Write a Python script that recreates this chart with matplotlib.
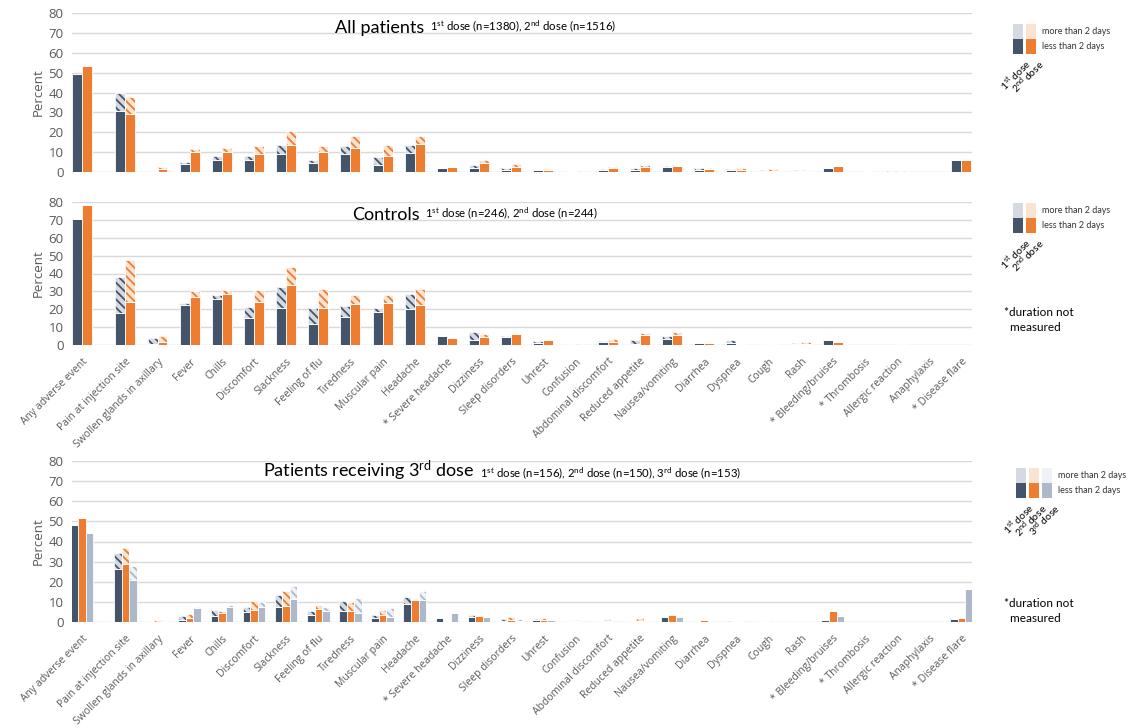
import numpy as np
import matplotlib
matplotlib.use('Agg')
import matplotlib.pyplot as plt
from matplotlib.patches import Rectangle
from matplotlib.text import Annotation

plt.rcParams['font.family'] = ['Open Sans', 'DejaVu Sans']
plt.rcParams['mathtext.fontset'] = 'custom'
plt.rcParams['mathtext.rm'] = 'Lato'
plt.rcParams['mathtext.it'] = 'Lato:italic'
plt.rcParams['hatch.linewidth'] = 1.3

# symptom categories
symptoms = ['Any adverse event', 'Pain at injection site', 'Swollen glands in axillary', 'Fever',
            'Chills', 'Discomfort', 'Slackness', 'Feeling of flu', 'Tiredness', 'Muscular pain',
            'Headache', '* Severe headache', 'Dizziness', 'Sleep disorders', 'Unrest', 'Confusion',
            'Abdominal discomfort', 'Reduced appetite', 'Nausea/vomiting', 'Diarrhea', 'Dyspnea',
            'Cough', 'Rash', '* Bleeding/bruises', '* Thrombosis', 'Allergic reaction',
            'Anaphylaxis', '* Disease flare']

# All patients: "short" = less than 2 days, "total" = short + more than 2 days
all_d1_short = [49.5, 30.9, 0.7, 4.2, 5.9, 5.9, 9.2, 4.5, 8.9, 3.7, 9.4, 2.0, 2.2, 1.0, 1.0, 0.3,
                1.2, 1.2, 2.5, 1.2, 0.8, 0.7, 0.7, 2.2, 0.0, 0.2, 0.0, 5.9]
all_d1_total = [49.5, 39.8, 0.7, 5.0, 8.0, 8.0, 13.6, 6.2, 13.1, 7.4, 13.6, 2.0, 3.5, 2.0, 1.0, 0.5,
                1.7, 1.8, 3.0, 1.8, 1.7, 1.2, 1.2, 2.2, 0.0, 0.4, 0.0, 5.9]
all_d2_short = [53.4, 29.2, 1.5, 10.1, 10.1, 9.2, 13.8, 10.1, 12.1, 8.2, 13.9, 2.3, 4.5, 2.5, 1.0, 0.2,
                1.8, 2.5, 3.2, 1.5, 0.8, 0.7, 0.6, 3.2, 0.3, 0.2, 0.0, 6.0]
all_d2_total = [53.4, 37.8, 2.5, 11.6, 12.1, 13.3, 20.5, 12.9, 18.0, 13.4, 18.3, 2.3, 6.0, 3.9, 1.7, 0.6,
                2.5, 3.5, 3.7, 2.0, 1.8, 1.3, 1.2, 3.2, 0.3, 0.4, 0.0, 6.0]

# Controls
ctl_d1_short = [70.7, 17.9, 0.7, 22.1, 26.0, 15.3, 20.6, 11.6, 15.9, 18.5, 20.0, 4.9, 2.8, 4.3, 0.9, 0.3,
                1.9, 0.6, 3.4, 1.3, 0.9, 0.3, 0.4, 2.8, 0.0, 0.0, 0.0, 0.0]
ctl_d1_total = [70.7, 38.1, 3.7, 23.6, 27.9, 21.3, 32.5, 20.7, 21.9, 20.9, 28.5, 4.9, 7.5, 5.0, 2.2, 0.4,
                2.4, 2.8, 5.0, 1.3, 2.6, 0.4, 1.2, 2.8, 0.0, 0.0, 0.0, 0.0]
ctl_d2_short = [78.3, 23.9, 1.5, 26.7, 28.8, 23.9, 33.3, 20.7, 22.8, 23.7, 22.4, 4.1, 4.5, 6.0, 2.8, 0.2,
                1.5, 5.4, 5.8, 0.9, 0.7, 0.4, 0.8, 1.7, 0.0, 0.3, 0.0, 0.0]
ctl_d2_total = [78.3, 47.5, 5.0, 30.1, 30.8, 30.7, 43.4, 31.2, 27.9, 28.2, 31.3, 4.1, 6.2, 6.2, 2.8, 0.4,
                3.4, 6.7, 7.5, 1.5, 0.7, 0.8, 1.6, 1.7, 0.0, 0.3, 0.0, 0.0]

# Patients receiving 3rd dose
p3_d1_short = [48.3, 26.2, 0.7, 1.0, 3.0, 5.0, 7.7, 3.7, 5.7, 2.0, 9.1, 2.2, 2.6, 0.7, 1.0, 0.3,
               0.3, 0.3, 2.5, 0.0, 0.0, 0.3, 0.3, 1.2, 0.0, 0.0, 0.0, 1.7]
p3_d1_total = [48.3, 34.2, 0.7, 2.8, 6.0, 7.7, 13.5, 5.7, 10.3, 3.3, 12.4, 2.2, 3.5, 1.7, 1.7, 0.3,
               0.3, 0.3, 2.5, 0.0, 0.3, 0.7, 0.6, 1.2, 0.0, 0.0, 0.0, 1.7]
p3_d2_short = [51.7, 28.7, 0.2, 2.0, 4.7, 6.0, 7.8, 6.7, 5.5, 3.5, 10.9, 0.3, 2.8, 0.8, 1.0, 0.3,
               0.3, 0.5, 3.5, 0.8, 0.5, 0.0, 0.0, 5.3, 0.0, 0.0, 0.0, 1.8]
p3_d2_total = [51.7, 36.8, 1.2, 3.8, 5.7, 10.2, 15.5, 8.5, 9.7, 5.8, 10.9, 0.3, 2.8, 2.6, 2.0, 1.0,
               1.7, 2.2, 3.5, 0.8, 0.7, 0.3, 0.6, 5.3, 0.0, 0.0, 0.0, 1.8]
p3_d3_short = [44.3, 20.7, 0.3, 7.0, 7.3, 7.7, 11.2, 5.7, 4.3, 2.5, 10.9, 4.6, 2.5, 0.3, 0.8, 0.0,
               0.2, 0.5, 2.5, 0.2, 0.0, 0.0, 0.2, 3.0, 0.0, 0.0, 0.0, 16.2]
p3_d3_total = [44.3, 27.8, 1.0, 7.3, 8.3, 9.7, 17.7, 7.5, 12.0, 7.1, 15.4, 4.6, 2.5, 1.7, 0.8, 0.0,
               0.2, 0.5, 2.5, 0.6, 0.3, 0.3, 0.6, 3.0, 0.0, 0.0, 0.0, 16.2]

dark, orange, grey = '#44546A', '#ED7D31', '#ADB9CA'
pale = {dark: '#D5DAE2', orange: '#FBE3D2', grey: '#EEF1F5'}
tickgrey = '#595959'

W, H = 1129, 728
fig = plt.figure(figsize=(W / 100, H / 100), dpi=100)

# extra gap after the first category
x = np.array([0.0] + [1.35 + i for i in range(len(symptoms) - 1)])


def fpos(px, py):
    return px / W, 1 - py / H


def panel(top, bottom, series, labels):
    ax = fig.add_axes([72 / W, 1 - bottom / H, 900 / W, (bottom - top) / H])
    n = len(series)
    bw = 0.31 if n == 2 else 0.235
    offs = (np.arange(n) - (n - 1) / 2) * bw
    for (short, total, col), o in zip(series, offs):
        short = np.array(short)
        extra = np.array(total) - short
        ax.bar(x + o, short, bw, color=col, edgecolor='white', linewidth=0.6, zorder=3)
        ax.bar(x + o, extra, bw, bottom=short, facecolor=pale[col], edgecolor=col,
               linewidth=0, hatch='\\\\\\\\', zorder=3)
        ax.bar(x + o, extra, bw, bottom=short, fill=False, edgecolor='white',
               linewidth=0.6, zorder=4)
    ax.set_xlim(-0.31, 27.68)
    ax.set_ylim(0, 80)
    ax.set_yticks(range(0, 81, 10))
    ax.yaxis.grid(True, color='#D9D9D9', linewidth=1, zorder=0)
    for s in ax.spines.values():
        s.set_visible(False)
    ax.tick_params(axis='y', length=0, labelsize=9.5, labelcolor=tickgrey, pad=6)
    ax.set_ylabel('Percent', fontsize=9.5, color=tickgrey, labelpad=3)
    ax.set_xticks(x)
    if labels:
        ax.set_xticklabels(symptoms, rotation=45, ha='right', rotation_mode='anchor',
                           fontsize=7.5, color=tickgrey)
        ax.tick_params(axis='x', length=0, pad=8)
    else:
        ax.tick_params(axis='x', length=0, labelbottom=False)
    return ax


panel(13, 172, [(all_d1_short, all_d1_total, dark), (all_d2_short, all_d2_total, orange)], False)
panel(202, 345, [(ctl_d1_short, ctl_d1_total, dark), (ctl_d2_short, ctl_d2_total, orange)], True)
panel(461, 622, [(p3_d1_short, p3_d1_total, dark), (p3_d2_short, p3_d2_total, orange),
                 (p3_d3_short, p3_d3_total, grey)], True)


def title(px, py, big, small):
    t = fig.text(*fpos(px, py), big, fontsize=13, family=['Lato', 'DejaVu Sans'],
                 va='bottom', ha='left')
    fig.add_artist(Annotation(small, xy=(1, 0), xycoords=t, xytext=(4, 1.5),
                              textcoords='offset points', fontsize=8.2,
                              family=['Lato', 'DejaVu Sans'], va='bottom', ha='left'))


title(335, 36, 'All patients', r'1$^{\rm st}$ dose (n=1380), 2$^{\rm nd}$ dose (n=1516)')
title(352, 223, 'Controls', r'1$^{\rm st}$ dose (n=246), 2$^{\rm nd}$ dose (n=244)')
title(263, 483, r'Patients receiving 3$^{\rm rd}$ dose',
      r'1$^{\rm st}$ dose (n=156), 2$^{\rm nd}$ dose (n=150), 3$^{\rm rd}$ dose (n=153)')


def legend(px0, ptop, cols, names):
    pw, ph = 10, 15
    for i, col in enumerate(cols):
        xx = px0 + i * 13
        fig.add_artist(Rectangle(fpos(xx, ptop + ph), pw / W, ph / H, transform=fig.transFigure,
                                 facecolor=pale[col], edgecolor='none'))
        fig.add_artist(Rectangle(fpos(xx, ptop + 2 * ph), pw / W, ph / H, transform=fig.transFigure,
                                 facecolor=col, edgecolor='none'))
        fig.text(*fpos(xx + pw + 1, ptop + 2 * ph + 3), names[i], rotation=45, ha='right', va='top',
                 rotation_mode='anchor', fontsize=7.5, family=['Lato', 'DejaVu Sans'])
    tx = px0 + len(cols) * 13 + 3
    fig.text(*fpos(tx, ptop + ph / 2), 'more than 2 days', fontsize=6.5,
             family=['Lato', 'DejaVu Sans'], va='center', color='#333333')
    fig.text(*fpos(tx, ptop + 1.5 * ph), 'less than 2 days', fontsize=6.5,
             family=['Lato', 'DejaVu Sans'], va='center', color='#333333')


d1 = r'1$^{\rm st}$ dose'
d2 = r'2$^{\rm nd}$ dose'
d3 = r'3$^{\rm rd}$ dose'
legend(1013, 24, [dark, orange], [d1, d2])
legend(1013, 203, [dark, orange], [d1, d2])
legend(1016, 468, [dark, orange, grey], [d1, d2, d3])

for py in (320, 611):
    fig.text(*fpos(1004, py), '*duration not\n  measured', fontsize=8.5,
             family=['Lato', 'DejaVu Sans'], va='center', linespacing=1.5)

fig.savefig('out.png', dpi=100)
